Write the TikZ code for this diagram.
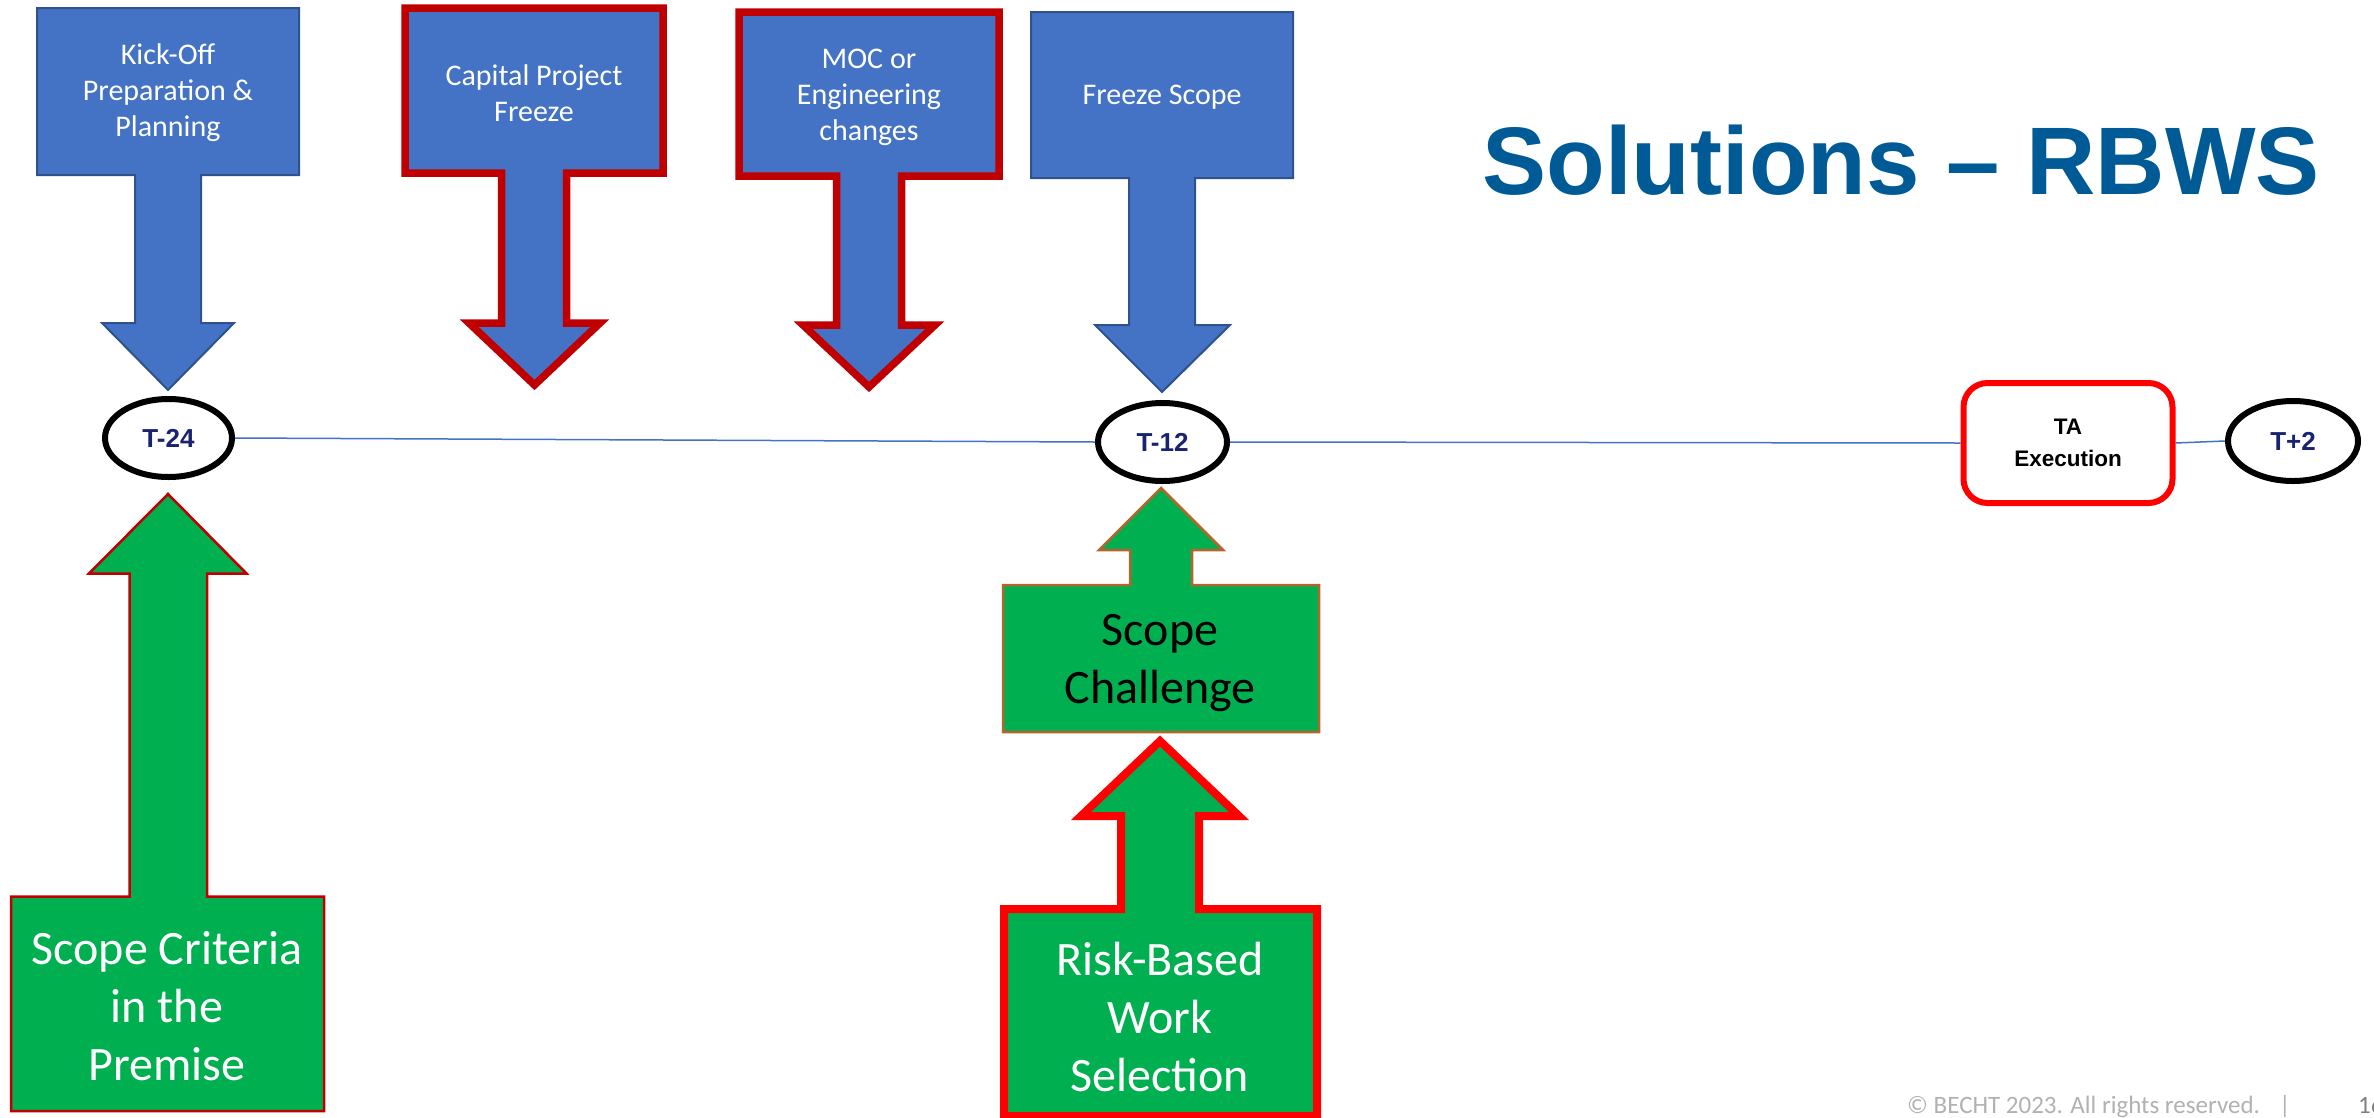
\documentclass[tikz,border=0pt]{standalone}
\usepackage{fontspec}
\setmainfont{Carlito}
\newfontfamily\arialf{Liberation Sans}
\usetikzlibrary{shapes.geometric}
\definecolor{blueFill}{HTML}{4472C4}
\definecolor{blueEdge}{HTML}{2F528F}
\definecolor{darkRed}{HTML}{C00000}
\definecolor{greenFill}{HTML}{00B050}
\definecolor{brownEdge}{HTML}{B5652B}
\definecolor{titleBlue}{HTML}{005A96}
\definecolor{navyText}{HTML}{1A2370}
\definecolor{footGray}{HTML}{B3B0B0}
\tikzset{
  bluecall/.style={fill=blueFill,draw=blueEdge,line width=2pt},
  bluered/.style={fill=blueFill,draw=darkRed,line width=7.5pt},
  greenthin/.style={fill=greenFill,draw=darkRed,line width=2.5pt},
  greenbrown/.style={fill=greenFill,draw=brownEdge,line width=2.5pt},
  greenred/.style={fill=greenFill,draw=red,line width=8pt},
  smalllabel/.style={text=white,align=center,inner sep=0pt,font=\fontsize{30}{36}\selectfont},
  biglabel/.style={text=white,align=center,inner sep=0pt,font=\fontsize{48}{58}\selectfont},
  milestone/.style={ellipse,draw=black,fill=white,line width=6pt,inner sep=0pt,text=navyText,font=\arialf\bfseries\fontsize{26}{30}\selectfont},
  link/.style={draw=blueFill,line width=1.5pt},
  foot/.style={text=footGray,anchor=base west,inner sep=0pt,font=\fontsize{25}{30}\selectfont}
}
% x1 x2 farY nearY sx1 sx2 headbase hx1 hx2 tipx tipy style
\newcommand{\callshape}[9]{\def\cA{#1}\def\cB{#2}\def\cC{#3}\def\cD{#4}\def\cE{#5}\def\cF{#6}\def\cG{#7}\def\cH{#8}\def\cI{#9}\callshapeB}
\newcommand{\callshapeB}[3]{\path[#3] (\cA,\cC) -- (\cB,\cC) -- (\cB,\cD) -- (\cF,\cD) -- (\cF,\cG) -- (\cI,\cG) -- (#1,#2) -- (\cH,\cG) -- (\cE,\cG) -- (\cE,\cD) -- (\cA,\cD) -- cycle;}
\begin{document}
\begin{tikzpicture}[x=1pt,y=-1pt]
\useasboundingbox (0,0) rectangle (2374,1117);
\clip (0,0) rectangle (2374,1117);

% top blue callouts
\callshape{37}{299}{8}{175}{135}{201}{323}{102}{234}{168}{390}{bluecall}
\callshape{405}{663}{8}{173}{501.5}{566.5}{323}{469}{600}{534.5}{385}{bluered}
\callshape{739}{999}{12}{176}{836.5}{901.5}{325}{803}{935}{869}{387}{bluered}
\callshape{1031}{1293}{12}{178}{1129}{1195}{325}{1095}{1230}{1162}{392}{bluecall}
\node[smalllabel] (kick) at (168,93) {Kick-Off\\Preparation \&\\Planning};
\node[smalllabel] (capital) at (534,93) {Capital Project\\Freeze};
\node[smalllabel] (moc) at (869,97) {MOC or\\Engineering\\changes};
\node[smalllabel] (freeze) at (1162,97) {Freeze Scope};

% title
\node[inner sep=0pt,text=titleBlue,font=\arialf\bfseries\fontsize{96}{100}\selectfont] (title) at (1901,160) {Solutions – RBWS};

% timeline
\node[milestone,minimum width=127pt,minimum height=78pt] (t24) at (168.5,438) {T-24};
\node[milestone,minimum width=129pt,minimum height=78pt] (t12) at (1162.5,442) {T-12};
\node[milestone,minimum width=130pt,minimum height=80pt] (t2) at (2293,441) {T+2};
\node[draw=red,fill=white,line width=6pt,rounded corners=24pt,minimum width=209pt,minimum height=120pt,inner sep=0pt,align=center,text=black,font=\arialf\bfseries\fontsize{22.5}{32}\selectfont] (ta) at (2068,443) {TA\\Execution};
\draw[link] (t24.east) -- (t12.west);
\draw[link] (t12.east) -- (ta.west);
\draw[link] (ta.east) -- (t2.west);

% green callouts
\callshape{11}{324}{1111}{896.5}{129.5}{207}{573.5}{89}{246.5}{168}{494}{greenthin}
\callshape{1003}{1319}{732}{585}{1130}{1192}{550}{1099}{1223}{1161}{488}{greenbrown}
\callshape{1004}{1317}{1116}{909}{1121}{1199}{816}{1081}{1239}{1160}{741}{greenred}
\node[biglabel] (criteria) at (167,1006) {Scope Criteria\\in the\\Premise};
\node[biglabel,text=black] (challenge) at (1160,663) {Scope\\Challenge};
\node[biglabel] (rbws) at (1160,1017) {Risk-Based\\Work\\Selection};

% footer
\node[foot] (copy) at (1907,1113) {© BECHT 2023. All rights reserved.};
\node[foot] (bar) at (2279,1113) {|};
\node[foot,text=gray] (page) at (2358,1113) {16};
\end{tikzpicture}
\end{document}
